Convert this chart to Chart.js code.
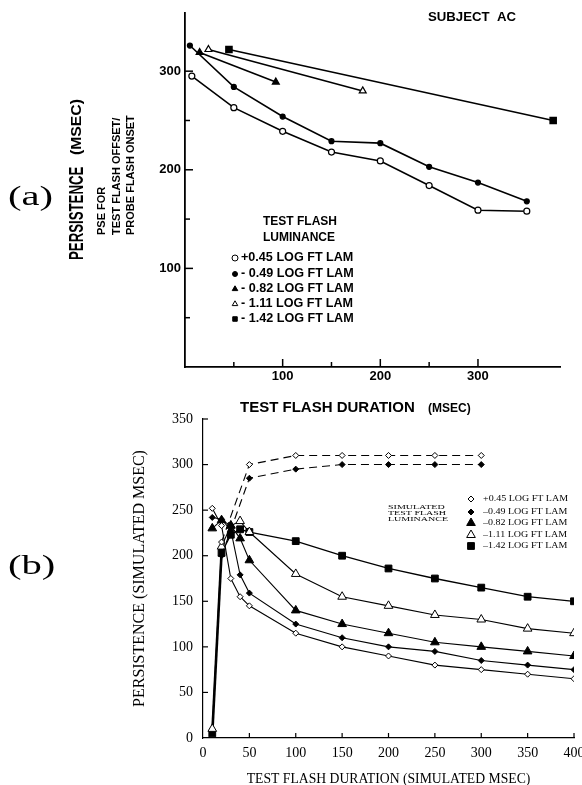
<!DOCTYPE html>
<html>
<head>
<meta charset="utf-8">
<script src="https://cdn.jsdelivr.net/npm/chart.js"></script>
<style>
  html, body { margin: 0; padding: 0; background: #fff; overflow: hidden; width: 582px; height: 785px; }
  canvas { position: absolute; left: 0; }
  #chartA { top: 0; }
  #chartB { top: 380px; }
</style>
</head>
<body>
<canvas id="chartA" width="600" height="420"></canvas>
<canvas id="chartB" width="600" height="420"></canvas>
<script>
// ---- panel (a): measured persistence, subject AC ----
const aLabels = ["+0.45 LOG FT LAM", "- 0.49 LOG FT LAM", "- 0.82 LOG FT LAM", "- 1.11 LOG FT LAM", "- 1.42 LOG FT LAM"];
const a045x = [7, 50, 100, 150, 200, 250, 300, 350];
const a045y = [295, 263, 239, 218, 209, 184, 159, 158];
const a049x = [5, 50, 100, 150, 200, 250, 300, 350];
const a049y = [326, 284, 254, 229, 227, 203, 187, 168];
const a082x = [15, 93];
const a082y = [319, 289];
const a111x = [24, 182];
const a111y = [322, 280];
const a142x = [45, 377];
const a142y = [322, 250];
const aTickLabels = [100, 200, 300];

// ---- panel (b): simulated persistence ----
const bLabels = ["+0.45 LOG FT LAM", "\u20130.49 LOG FT LAM", "\u20130.82 LOG FT LAM", "\u20131.11 LOG FT LAM", "\u20131.42 LOG FT LAM"];
const bDur = [10, 20, 30, 40, 50, 100, 150, 200, 250, 300, 350, 400];
const b045 = [252, 233, 175, 155, 145, 115, 100, 90, 80, 75, 70, 65];
const b049 = [242, 240, 228, 179, 159, 125, 110, 100, 95, 85, 80, 75];
const b082 = [230, 239, 233, 219, 195, 140, 125, 115, 105, 100, 95, 90];
const b111 = [10, 210, 233, 238, 226, 180, 155, 145, 135, 130, 120, 115];
const b142 = [5, 203, 223, 229, 226, 216, 200, 186, 175, 165, 155, 150];
const bDashDur = [20, 50, 100, 150, 200, 250, 300];
const b045dash = [215, 300, 310, 310, 310, 310, 310];
const b049dash = [200, 285, 295, 300, 300, 300, 300];

const SANS = "'Liberation Sans', Arial, sans-serif";
const SERIF = "'Liberation Serif', 'Times New Roman', serif";

function zip(xs, ys) {
  return xs.map((x, i) => ({ x: x, y: ys[i] }));
}

function txt(ctx, s, x, y, font, o = {}) {
  ctx.save();
  ctx.translate(x, y);
  if (o.rot) ctx.rotate(o.rot);
  ctx.scale(o.sx || 1, o.sy || 1);
  ctx.font = font;
  ctx.fillStyle = "#000";
  ctx.textAlign = o.align || "left";
  ctx.textBaseline = "middle";
  ctx.fillText(s, 0, 0);
  ctx.restore();
}

function mark(ctx, style, x, y, r, filled) {
  ctx.save();
  ctx.fillStyle = filled ? "#000" : "#fff";
  ctx.strokeStyle = "#000";
  ctx.lineWidth = 1;
  if (Chart.helpers && Chart.helpers.drawPoint) {
    Chart.helpers.drawPoint(ctx, { pointStyle: style, radius: r, rotation: 0, borderWidth: 1 }, x, y);
  } else {
    ctx.beginPath();
    ctx.arc(x, y, r, 0, Math.PI * 2);
    ctx.fill();
    ctx.stroke();
  }
  ctx.restore();
}

// tick marks pointing into the plot
const inwardTicks = {
  id: "inwardTicks",
  afterDraw(chart, args, o) {
    const ctx = chart.ctx;
    const { x, y } = chart.scales;
    ctx.save();
    ctx.strokeStyle = "#000";
    ctx.lineWidth = o.width;
    x.ticks.forEach((t) => {
      if (t.value === 0) return;
      const px = x.getPixelForValue(t.value);
      const len = t.value % o.every === 0 ? o.major : o.minor;
      ctx.beginPath();
      ctx.moveTo(px, x.top);
      ctx.lineTo(px, x.top - len);
      ctx.stroke();
    });
    y.ticks.forEach((t) => {
      if (t.value === 0) return;
      const py = y.getPixelForValue(t.value);
      const len = t.value % o.every === 0 ? o.major : o.minor;
      ctx.beginPath();
      ctx.moveTo(y.right, py);
      ctx.lineTo(y.right + len, py);
      ctx.stroke();
    });
    ctx.restore();
  },
};

const aStyles = [
  { style: "circle", r: 3, filled: false },
  { style: "circle", r: 2.5, filled: true },
  { style: "triangle", r: 4, filled: true },
  { style: "triangle", r: 4, filled: false },
  { style: "rect", r: 4.5, filled: true },
];
const bStyles = [
  { style: "rectRot", r: 3, filled: false },
  { style: "rectRot", r: 3, filled: true },
  { style: "triangle", r: 5, filled: true },
  { style: "triangle", r: 5, filled: false },
  { style: "rect", r: 4.8, filled: true },
];

const textA = {
  id: "textA",
  afterDraw(chart) {
    const ctx = chart.ctx;
    const up = -Math.PI / 2;
    txt(ctx, "(a)", 8, 198, "28px " + SERIF, { sx: 1.45 });
    txt(ctx, "PERSISTENCE", 77, 260, "bold 21px " + SANS, { rot: up, sx: 0.63 });
    txt(ctx, "(MSEC)", 77, 155, "bold 15px " + SANS, { rot: up, sx: 1.05 });
    txt(ctx, "PSE FOR", 102, 235, "bold 11px " + SANS, { rot: up });
    txt(ctx, "TEST FLASH OFFSET/", 117, 235, "bold 11px " + SANS, { rot: up });
    txt(ctx, "PROBE FLASH ONSET", 131, 235, "bold 11px " + SANS, { rot: up });
    txt(ctx, "SUBJECT  AC", 428, 18, "bold 12px " + SANS, { sx: 1.1 });
    txt(ctx, "TEST FLASH", 263, 222, "bold 12px " + SANS);
    txt(ctx, "LUMINANCE", 263, 238, "bold 12px " + SANS);
    const rows = [258, 274, 289, 304, 319];
    aLabels.forEach((l, i) => {
      const s = aStyles[i];
      mark(ctx, s.style, 235, rows[i], Math.min(s.r, 3.2), s.filled);
      txt(ctx, l, 241, rows[i], "bold 12px " + SANS, { sx: 1.05 });
    });
    txt(ctx, "TEST FLASH DURATION", 240, 408, "bold 15px " + SANS);
    txt(ctx, "(MSEC)", 428, 409, "bold 12px " + SANS);
  },
};

const textB = {
  id: "textB",
  afterDraw(chart) {
    const ctx = chart.ctx;
    txt(ctx, "(b)", 8, 187, "28px " + SERIF, { sx: 1.45 });
    txt(ctx, "SIMULATED", 388, 127, "10px " + SERIF, { sy: 0.7 });
    txt(ctx, "TEST FLASH", 388, 133, "10px " + SERIF, { sy: 0.7 });
    txt(ctx, "LUMINANCE", 388, 139, "10px " + SERIF, { sy: 0.7 });
    const rows = [119, 132, 143, 155, 166];
    bLabels.forEach((l, i) => {
      const s = bStyles[i];
      mark(ctx, s.style, 471, rows[i], s.r, s.filled);
      txt(ctx, l, 483, rows[i], "10px " + SERIF, { sy: 0.8 });
    });
  },
};

function aSet(xs, ys, s) {
  return {
    data: zip(xs, ys),
    borderColor: "#000",
    borderWidth: 1.6,
    pointStyle: s.style,
    pointRadius: s.r,
    pointBackgroundColor: s.filled ? "#000" : "#fff",
    pointBorderColor: "#000",
    pointBorderWidth: 1.2,
    tension: 0,
  };
}

function bSet(xs, ys, s, extra) {
  return Object.assign({
    data: zip(xs, ys),
    borderColor: "#000",
    borderWidth: 1.1,
    pointStyle: s.style,
    pointRadius: s.r,
    pointBackgroundColor: s.filled ? "#000" : "#fff",
    pointBorderColor: "#000",
    pointBorderWidth: 1,
    tension: 0,
  }, extra || {});
}

const keep50 = (scale) => {
  scale.ticks = scale.ticks.filter((t) => t.value % 50 === 0);
};

new Chart(document.getElementById("chartA"), {
  type: "line",
  data: {
    datasets: [
      aSet(a045x, a045y, aStyles[0]),
      aSet(a049x, a049y, aStyles[1]),
      aSet(a082x, a082y, aStyles[2]),
      aSet(a111x, a111y, aStyles[3]),
      aSet(a142x, a142y, aStyles[4]),
    ],
  },
  options: {
    responsive: false,
    animation: false,
    layout: { padding: { top: 13, right: 40, bottom: 0, left: 0 } },
    plugins: {
      legend: { display: false },
      tooltip: { enabled: false },
      inwardTicks: { width: 1.5, every: 100, major: 8, minor: 5 },
    },
    scales: {
      x: {
        type: "linear",
        min: 0,
        max: 384,
        afterBuildTicks: keep50,
        afterFit: (s) => { s.height = 53; },
        grid: { display: true, drawOnChartArea: false, drawTicks: false },
        border: { color: "#000", width: 1.8 },
        ticks: {
          stepSize: 50,
          padding: 2,
          color: "#000",
          font: { family: SANS, size: 13, weight: "bold" },
          callback: (v) => (aTickLabels.includes(v) ? v : ""),
        },
      },
      y: {
        min: 0,
        max: 359,
        afterBuildTicks: keep50,
        afterFit: (s) => { s.width = 185; },
        grid: { display: true, drawOnChartArea: false, drawTicks: false },
        border: { color: "#000", width: 1.8 },
        ticks: {
          stepSize: 50,
          padding: 4,
          color: "#000",
          font: { family: SANS, size: 13, weight: "bold" },
          callback: (v) => (aTickLabels.includes(v) ? v : ""),
        },
      },
    },
  },
  plugins: [inwardTicks, textA],
});

new Chart(document.getElementById("chartB"), {
  type: "line",
  data: {
    datasets: [
      bSet(bDashDur, b045dash, bStyles[0], { borderDash: [8, 5] }),
      bSet(bDashDur, b049dash, bStyles[1], { borderDash: [8, 5] }),
      bSet(bDur, b045, bStyles[0]),
      bSet(bDur, b049, bStyles[1]),
      bSet(bDur, b082, bStyles[2]),
      bSet(bDur, b111, bStyles[3]),
      bSet(bDur, b142, bStyles[4], {
        segment: { borderWidth: (c) => (c.p0DataIndex === 0 ? 2.6 : 1.3) },
      }),
    ],
  },
  options: {
    responsive: false,
    animation: false,
    layout: { padding: { top: 39, right: 26, bottom: 0, left: 0 } },
    plugins: {
      legend: { display: false },
      tooltip: { enabled: false },
      inwardTicks: { width: 1.2, every: 50, major: 5, minor: 5 },
    },
    scales: {
      x: {
        type: "linear",
        min: 0,
        max: 400,
        afterFit: (s) => { s.height = 62; },
        grid: { display: true, drawOnChartArea: false, drawTicks: false },
        border: { color: "#000", width: 1.2 },
        ticks: {
          stepSize: 50,
          padding: 7,
          color: "#000",
          font: { family: SERIF, size: 14 },
        },
        title: {
          display: true,
          text: "TEST FLASH DURATION (SIMULATED MSEC)",
          color: "#000",
          font: { family: SERIF, size: 13.7 },
          padding: { top: 0, bottom: 12 },
        },
      },
      y: {
        min: 0,
        max: 350,
        afterFit: (s) => { s.width = 203; },
        grid: { display: true, drawOnChartArea: false, drawTicks: false },
        border: { color: "#000", width: 1.2 },
        ticks: {
          stepSize: 50,
          padding: 10,
          color: "#000",
          font: { family: SERIF, size: 14 },
        },
        title: {
          display: true,
          text: "PERSISTENCE (SIMULATED MSEC)",
          color: "#000",
          font: { family: SERIF, size: 16 },
          padding: { top: 130, bottom: 0 },
        },
      },
    },
  },
  plugins: [inwardTicks, textB],
});
</script>
</body>
</html>
